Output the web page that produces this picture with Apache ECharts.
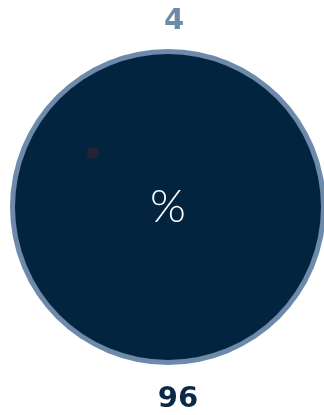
<!DOCTYPE html>
<html>
<head>
<meta charset="utf-8">
<script src="https://cdn.jsdelivr.net/npm/echarts@6/dist/echarts.min.js"></script>
<style>
  html, body { margin: 0; padding: 0; background: #fff; }
  #chart1 { width: 324px; height: 415px; }
</style>
</head>
<body>
<div id="chart1"></div>
<script>
// 数据
var names = ['4', '96'];
var values = [4, 96];
var colors = ['#6e8aab', '#03243f'];

var mychart = echarts.init(document.getElementById('chart1'));

var cx = 168, cy = 207;

var option = {
    animation: false,
    title: [{
        text: names[0],
        left: 169,
        top: 2,
        textAlign: 'center',
        textStyle: { color: '#6e8aab', fontFamily: 'DejaVu Sans', fontWeight: 'bold', fontSize: 29 }
    }, {
        text: names[1],
        left: 173,
        top: 380,
        textAlign: 'center',
        textStyle: { color: '#0b2946', fontFamily: 'DejaVu Sans', fontWeight: 'bold', fontSize: 29 }
    }],
    graphic: [{
        type: 'text',
        z: 100,
        style: { text: '%', fill: '#ffffff', font: '300 46px Lato', x: cx, y: cy, align: 'center', verticalAlign: 'middle' }
    }, {
        // 小暗点
        type: 'circle',
        z: 100,
        shape: { cx: 93, cy: 153, r: 6 },
        style: { fill: '#2a2338', opacity: 0.9 }
    }],
    series: [{
        // 外圈 (4)
        type: 'pie',
        center: [cx, cy],
        radius: [0, 158],
        silent: true,
        itemStyle: { color: colors[0] },
        label: { show: false },
        labelLine: { show: false },
        data: [{ name: names[0], value: values[0] }]
    }, {
        // 内圈 (96)
        type: 'pie',
        center: [cx, cy],
        radius: [0, 153],
        silent: true,
        itemStyle: { color: colors[1] },
        label: { show: false },
        labelLine: { show: false },
        data: [{ name: names[1], value: values[1] }]
    }]
};

mychart.setOption(option);
</script>
</body>
</html>
